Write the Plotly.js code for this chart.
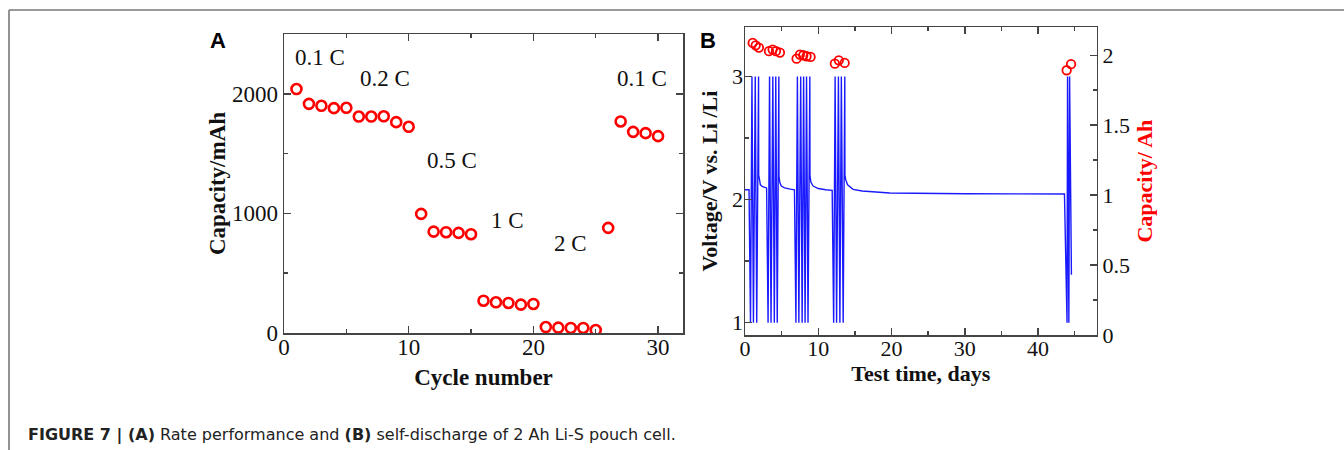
<!DOCTYPE html>
<html>
<head>
<meta charset="utf-8">
<script src="https://cdn.plot.ly/plotly-3.0.1.min.js"></script>
<style>html,body{margin:0;padding:0;background:#fff;}#chart{width:1344px;height:450px;}</style>
</head>
<body>
<div id="chart"></div>
<script>
// Panel A: rate performance
const cycleNumber = [1,2,3,4,5,6,7,8,9,10,11,12,13,14,15,16,17,18,19,20,21,22,23,24,25,26,27,28,29,30];
const capacityMAh = [2040,1916,1900,1880,1883,1810,1810,1812,1763,1724,996,848,843,837,826,270,257,251,237,243,50,45,42,42,25,879,1769,1682,1671,1646];
const rateLabels = ['0.1 C','0.2 C','0.5 C','1 C','2 C','0.1 C'];
const rateLabelX = [2.9, 8.1, 13.5, 17.9, 23.0, 28.7];
const rateLabelY = [2300, 2125, 1440, 940, 750, 2125];

// Panel B: self-discharge (voltage trace and capacity points)
const testDays = [0,0.55,0.75,0.95,1.15,1.4,1.6,1.85,1.87,1.95,2.1,2.4,2.95,
  3.15,3.35,3.55,3.8,4.0,4.2,4.4,4.62,4.64,4.75,4.95,5.4,6.2,6.75,
  6.95,7.15,7.35,7.6,7.8,8.0,8.2,8.4,8.6,8.85,8.87,9.0,9.3,10.0,11.0,11.9,
  12.1,12.3,12.5,12.75,12.95,13.15,13.4,13.62,13.64,13.75,14.0,14.75,16,19.75,30,43.6,
  43.95,44.02,44.2,44.3,44.55];
const voltage = [2.08,2.08,1.0,3.0,1.0,3.0,1.0,3.0,2.2,2.15,2.12,2.105,2.095,
  1.0,3.0,1.0,3.0,1.0,3.0,1.0,3.0,2.19,2.14,2.11,2.095,2.085,2.08,
  1.0,3.0,1.0,3.0,1.0,3.0,1.0,3.0,1.0,3.0,2.19,2.14,2.11,2.09,2.08,2.075,
  1.0,3.0,1.0,3.0,1.0,3.0,1.0,3.0,2.2,2.16,2.12,2.083,2.07,2.054,2.048,2.046,
  1.0,3.0,1.0,3.0,1.39];
const capDays = [1.05,1.46,1.9,3.27,3.77,4.22,4.77,7.04,7.49,7.95,8.4,8.95,12.26,12.8,13.6,43.9,44.5];
const capAh = [2.088,2.071,2.055,2.029,2.041,2.029,2.019,1.976,2.005,2.0,1.993,1.988,1.94,1.964,1.945,1.893,1.936];

const serif = 'Liberation Serif, Times New Roman, serif';
const sans = 'Liberation Sans, Arial, sans-serif';
const axCol = '#444';

function axisBase(extra) {
  return Object.assign({
    showline: true, linecolor: axCol, linewidth: 1.5,
    ticks: 'inside', ticklen: 7, tickwidth: 1.5, tickcolor: axCol,
    showgrid: false, zeroline: false,
    tickfont: {family: serif, size: 23, color: '#111'}
  }, extra);
}

const traces = [
  {x: cycleNumber, y: capacityMAh, xaxis: 'x', yaxis: 'y', type: 'scatter', mode: 'markers',
   marker: {symbol: 'circle-open', size: 10, color: '#ff0000', line: {width: 2.6, color: '#ff0000'}},
   showlegend: false},
  {x: testDays, y: voltage, xaxis: 'x2', yaxis: 'y2', type: 'scatter', mode: 'lines',
   line: {color: '#1a1aff', width: 1.4}, showlegend: false},
  {x: capDays, y: capAh, xaxis: 'x2', yaxis: 'y3', type: 'scatter', mode: 'markers',
   marker: {symbol: 'circle-open', size: 8.5, color: '#ff0000', line: {width: 1.8, color: '#ff0000'}},
   showlegend: false}
];

const annotations = rateLabels.map((t, i) => ({
  text: t, x: rateLabelX[i], y: rateLabelY[i], xref: 'x', yref: 'y', showarrow: false,
  font: {family: serif, size: 23, color: '#111'}
}));
annotations.push(
  {text: '<b>A</b>', x: 218/1344, y: (450-40)/450, xref: 'paper', yref: 'paper', showarrow: false,
   xanchor: 'center', yanchor: 'middle', font: {family: sans, size: 22, color: '#000'}},
  {text: '<b>B</b>', x: 708/1344, y: (450-40)/450, xref: 'paper', yref: 'paper', showarrow: false,
   xanchor: 'center', yanchor: 'middle', font: {family: sans, size: 22, color: '#000'}},
  {text: '<b>FIGURE 7 | (A)</b> Rate performance and <b>(B)</b> self-discharge of 2 Ah Li-S pouch cell.',
   x: 26/1344, y: (450-435)/450, xref: 'paper', yref: 'paper', xanchor: 'left', yanchor: 'middle',
   showarrow: false, font: {family: 'DejaVu Sans, sans-serif', size: 16, color: '#222'}}
);

const layout = {
  width: 1344, height: 450,
  margin: {l: 0, r: 0, t: 0, b: 0},
  paper_bgcolor: '#fff', plot_bgcolor: '#fff',
  showlegend: false,
  xaxis: axisBase({domain: [284/1344, 683/1344], anchor: 'y', range: [0, 32], tick0: 0, dtick: 10,
    mirror: 'ticks', ticklabelstandoff: -7,
    minor: {dtick: 5, ticklen: 4, ticks: 'inside', tickcolor: axCol, tickwidth: 1.5},
    title: {text: '<b>Cycle number</b>', standoff: 10, font: {family: serif, size: 23, color: '#111'}}}),
  yaxis: axisBase({domain: [(450-333)/450, (450-34)/450], anchor: 'x', range: [0, 2500], tick0: 0, dtick: 1000,
    mirror: 'ticks', minor: {dtick: 500, ticklen: 4, ticks: 'inside', tickcolor: axCol, tickwidth: 1.5},
    title: {text: '<b>Capacity/mAh</b>', standoff: 0, font: {family: serif, size: 23, color: '#111'}}}),
  xaxis2: axisBase({domain: [745/1344, 1096.7/1344], anchor: 'y2', range: [0, 48], tick0: 0, dtick: 10,
    mirror: 'ticks', ticklabelstandoff: -7, tickfont: {family: serif, size: 22, color: '#111'},
    minor: {dtick: 5, ticklen: 4, ticks: 'inside', tickcolor: axCol, tickwidth: 1.5},
    title: {text: '<b>Test time, days</b>', standoff: 2, font: {family: serif, size: 22, color: '#111'}}}),
  yaxis2: axisBase({domain: [(450-335)/450, (450-27.3)/450], anchor: 'x2', range: [0.9, 3.4], tick0: 1, dtick: 1,
    ticklabelstandoff: -4, tickfont: {family: serif, size: 22, color: '#111'},
    minor: {dtick: 0.5, ticklen: 4, ticks: 'inside', tickcolor: axCol, tickwidth: 1.5},
    title: {text: '<b>Voltage/V vs. Li /Li</b>', standoff: 8, font: {family: serif, size: 22, color: '#111'}}}),
  yaxis3: axisBase({overlaying: 'y2', side: 'right', anchor: 'x2', range: [0, 2.2], tick0: 0, dtick: 0.5,
    tickfont: {family: serif, size: 22, color: '#111'},
    minor: {dtick: 0.25, ticklen: 4, ticks: 'inside', tickcolor: axCol, tickwidth: 1.5},
    title: {text: '<b>Capacity/ Ah</b>', standoff: 7, font: {family: serif, size: 22, color: '#ff0000'}}}),
  annotations: annotations,
  shapes: [
    {type: 'line', xref: 'paper', yref: 'paper', x0: 9/1344, x1: 1, y0: (450-10)/450, y1: (450-10)/450,
     line: {color: '#777', width: 1.6}},
    {type: 'line', xref: 'paper', yref: 'paper', x0: 9/1344, x1: 9/1344, y0: 0, y1: (450-10)/450,
     line: {color: '#777', width: 1.6}}
  ]
};

Plotly.newPlot('chart', traces, layout, {staticPlot: true, displayModeBar: false});
</script>
</body>
</html>
